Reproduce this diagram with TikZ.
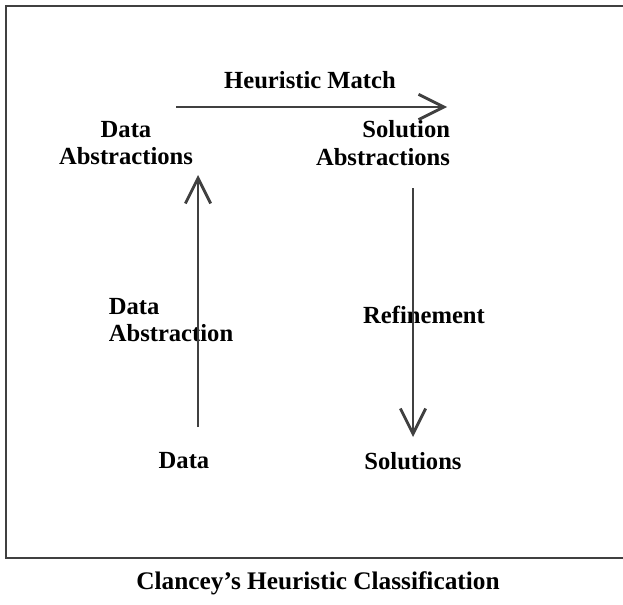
\documentclass[tikz,border=0pt]{standalone}
\usepackage{fontspec}
\setmainfont{Liberation Serif}
\usetikzlibrary{arrows.meta}
\definecolor{linegray}{HTML}{404040}
\tikzset{
  lbl/.style={font=\fontsize{17.5}{19.5}\selectfont\bfseries, inner sep=1pt},
  flow/.style={draw=linegray, line width=2.1pt, -{Straight Barb[length=18pt,width=18pt,line width=2pt]}}
}
\begin{document}
\begin{tikzpicture}[x=0.025cm,y=-0.025cm]
\useasboundingbox (0,0) rectangle (623,604);
\draw[linegray, line width=1.5pt] (623,6)--(6,6)--(6,558)--(623,558);
\node[lbl] (match) at (310,80) {Heuristic Match};
\node[lbl, align=center] (dabs) at (126,143) {Data\\Abstractions};
\node[lbl, align=right] (sabs) at (383,143) {Solution\\Abstractions};
\node[lbl, align=left] (dabst) at (171,320) {Data\\Abstraction};
\node[lbl] (refine) at (424,315) {Refinement};
\node[lbl] (data) at (184,461) {Data};
\node[lbl] (sols) at (413,461) {Solutions};
\node[lbl, font=\fontsize{18}{21}\selectfont\bfseries] (title) at (318,583) {Clancey's Heuristic Classification};
\coordinate (m-start) at (176,107);
\coordinate (m-end) at (447,107);
\coordinate (up-start) at (198,427);
\coordinate (up-end) at (198,175);
\coordinate (dn-start) at (413,188);
\coordinate (dn-end) at (413,437);
\draw[flow] (m-start)--(m-end);
\draw[flow] (up-start)--(up-end);
\draw[flow] (dn-start)--(dn-end);
\end{tikzpicture}
\end{document}
